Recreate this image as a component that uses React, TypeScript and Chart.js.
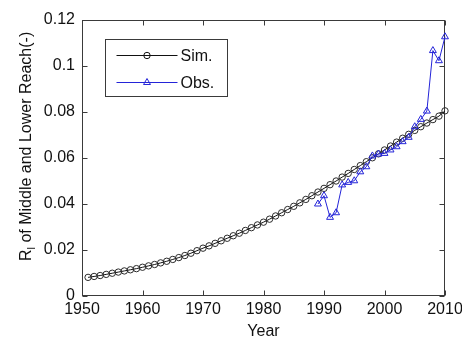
import React, { useEffect, useRef } from 'react';
import { Chart, registerables } from 'chart.js';

Chart.register(...registerables);

const simYears = [
  1951, 1952, 1953, 1954, 1955, 1956, 1957, 1958, 1959, 1960,
  1961, 1962, 1963, 1964, 1965, 1966, 1967, 1968, 1969, 1970,
  1971, 1972, 1973, 1974, 1975, 1976, 1977, 1978, 1979, 1980,
  1981, 1982, 1983, 1984, 1985, 1986, 1987, 1988, 1989, 1990,
  1991, 1992, 1993, 1994, 1995, 1996, 1997, 1998, 1999, 2000,
  2001, 2002, 2003, 2004, 2005, 2006, 2007, 2008, 2009, 2010,
];
const simValues = [
  0.0081, 0.0085, 0.0089, 0.0094, 0.0099, 0.0104, 0.0109, 0.0114, 0.0119, 0.0125,
  0.0131, 0.0137, 0.0144, 0.0151, 0.0159, 0.0167, 0.0176, 0.0186, 0.0197, 0.0208,
  0.0218, 0.0229, 0.024, 0.0251, 0.0262, 0.0273, 0.0285, 0.0297, 0.0309, 0.0321,
  0.0334, 0.0348, 0.0362, 0.0376, 0.039, 0.0405, 0.042, 0.0436, 0.0452, 0.0468,
  0.0484, 0.05, 0.0517, 0.0533, 0.055, 0.0567, 0.0584, 0.0601, 0.0618, 0.0635,
  0.0652, 0.0669, 0.0686, 0.0703, 0.072, 0.0736, 0.0752, 0.0767, 0.0782, 0.0805,
];
const obsYears = [
  1989, 1990, 1991, 1992, 1993, 1994, 1995, 1996, 1997, 1998, 1999,
  2000, 2001, 2002, 2003, 2004, 2005, 2006, 2007, 2008, 2009, 2010,
];
const obsValues = [
  0.04, 0.0436, 0.0342, 0.0362, 0.0483, 0.0494, 0.0501, 0.054, 0.0562, 0.0609, 0.0617,
  0.062, 0.0635, 0.0649, 0.0671, 0.069, 0.0736, 0.0768, 0.0804, 0.1067, 0.1023, 0.1127,
];
const xTicks = [1950, 1960, 1970, 1980, 1990, 2000, 2010];
const yTicks = [0, 0.02, 0.04, 0.06, 0.08, 0.1, 0.12];
const yTickLabels = ['0', '0.02', '0.04', '0.06', '0.08', '0.1', '0.12'];
const seriesLabels = ['Sim.', 'Obs.'];
const xTitle = 'Year';
const yTitleMain = 'R';
const yTitleSub = 'l';
const yTitleRest = ' of Middle and Lower Reach(-)';

const FONT = "'Liberation Sans', Arial, Helvetica, sans-serif";
const AXIS_COLOR = '#3a3a3a';
const SIM_COLOR = '#111111';
const OBS_COLOR = '#2424d8';

function drawMarker(ctx: CanvasRenderingContext2D, style: string, x: number, y: number, r: number) {
  ctx.beginPath();
  if (style === 'triangle') {
    ctx.moveTo(x, y - r);
    ctx.lineTo(x + 0.866 * r, y + 0.5 * r);
    ctx.lineTo(x - 0.866 * r, y + 0.5 * r);
    ctx.closePath();
  } else {
    ctx.arc(x, y, r, 0, Math.PI * 2);
  }
  ctx.stroke();
}

const framePlugin = {
  id: 'frameTicks',
  beforeDatasetsDraw(chart: any) {
    const { ctx, chartArea } = chart;
    const xs = chart.scales.x;
    const ys = chart.scales.y;
    const l = Math.round(chartArea.left) + 0.5;
    const r = Math.round(chartArea.right) - 0.5;
    const t = Math.round(chartArea.top) + 0.5;
    const b = Math.round(chartArea.bottom) - 0.5;
    ctx.save();
    ctx.strokeStyle = AXIS_COLOR;
    ctx.lineWidth = 1;
    ctx.strokeRect(l, t, r - l, b - t);
    const len = 5;
    ctx.beginPath();
    xs.ticks.forEach((tk: any) => {
      const px = Math.round(xs.getPixelForValue(tk.value)) + 0.5;
      ctx.moveTo(px, b);
      ctx.lineTo(px, b - len);
      ctx.moveTo(px, t);
      ctx.lineTo(px, t + len);
    });
    ys.ticks.forEach((tk: any) => {
      const py = Math.round(ys.getPixelForValue(tk.value)) + 0.5;
      ctx.moveTo(l, py);
      ctx.lineTo(l + len, py);
      ctx.moveTo(r, py);
      ctx.lineTo(r - len, py);
    });
    ctx.stroke();
    ctx.restore();
  },
};

const yTitlePlugin = {
  id: 'yTitleSub',
  afterDraw(chart: any) {
    const { ctx } = chart;
    ctx.save();
    ctx.translate(27, 261);
    ctx.rotate(-Math.PI / 2);
    ctx.fillStyle = '#111';
    ctx.textAlign = 'left';
    ctx.textBaseline = 'middle';
    ctx.font = `16px ${FONT}`;
    ctx.fillText(yTitleMain, 0, 0);
    let x = ctx.measureText(yTitleMain).width;
    ctx.font = `11px ${FONT}`;
    ctx.fillText(yTitleSub, x, 5);
    x += ctx.measureText(yTitleSub).width;
    ctx.font = `16px ${FONT}`;
    ctx.fillText(yTitleRest, x, 0);
    ctx.restore();
  },
};

const legendPlugin = {
  id: 'boxLegend',
  afterDraw(chart: any) {
    const { ctx, chartArea } = chart;
    const x0 = Math.round(chartArea.left + 24) - 0.5;
    const y0 = Math.round(chartArea.top + 19) + 0.5;
    const w = 122;
    const h = 57;
    ctx.save();
    ctx.fillStyle = '#ffffff';
    ctx.fillRect(x0, y0, w, h);
    ctx.strokeStyle = AXIS_COLOR;
    ctx.lineWidth = 1;
    ctx.strokeRect(x0, y0, w, h);
    const order = [1, 0];
    order.forEach((dsIndex, i) => {
      const ds = chart.data.datasets[dsIndex];
      const y = Math.round(y0 + 15.5 + i * 26.5) + 0.5;
      ctx.strokeStyle = ds.borderColor;
      ctx.lineWidth = 1;
      ctx.beginPath();
      ctx.moveTo(x0 + 11, y);
      ctx.lineTo(x0 + 72, y);
      ctx.stroke();
      drawMarker(ctx, ds.pointStyle, x0 + 41.5, y, ds.pointRadius);
      ctx.fillStyle = '#111';
      ctx.font = `16px ${FONT}`;
      ctx.textAlign = 'left';
      ctx.textBaseline = 'middle';
      ctx.fillText(ds.label, x0 + 75, y + 1);
    });
    ctx.restore();
  },
};

export default function App() {
  const canvasRef = useRef<HTMLCanvasElement | null>(null);

  useEffect(() => {
    const canvas = canvasRef.current;
    if (!canvas) return;
    const simData = simYears.map((yr, i) => ({ x: yr, y: simValues[i] }));
    const obsData = obsYears.map((yr, i) => ({ x: yr, y: obsValues[i] }));

    const chart = new Chart(canvas, {
      type: 'line',
      data: {
        datasets: [
          {
            label: seriesLabels[1],
            data: obsData,
            borderColor: OBS_COLOR,
            backgroundColor: 'rgba(0,0,0,0)',
            borderWidth: 1,
            pointStyle: 'triangle',
            pointRadius: 4,
            pointBorderWidth: 1,
            pointBorderColor: OBS_COLOR,
            pointBackgroundColor: 'rgba(0,0,0,0)',
            tension: 0,
            clip: false,
            order: 1,
          } as any,
          {
            label: seriesLabels[0],
            data: simData,
            borderColor: SIM_COLOR,
            backgroundColor: 'rgba(0,0,0,0)',
            borderWidth: 1,
            pointStyle: 'circle',
            pointRadius: 3.2,
            pointBorderWidth: 1,
            pointBorderColor: '#2a2a2a',
            pointBackgroundColor: 'rgba(0,0,0,0)',
            tension: 0,
            clip: false,
            order: 2,
          } as any,
        ],
      },
      options: {
        responsive: false,
        animation: false,
        devicePixelRatio: 1,
        layout: { padding: { left: 0, right: 17, top: 20, bottom: 0 } },
        plugins: {
          legend: { display: false },
          tooltip: { enabled: false },
        },
        scales: {
          x: {
            type: 'linear',
            min: 1950,
            max: 2010,
            grid: { display: false, drawTicks: false },
            border: { display: false },
            afterBuildTicks: (scale: any) => {
              scale.ticks = xTicks.map((v) => ({ value: v }));
            },
            afterFit: (scale: any) => {
              scale.height = 45;
              scale.paddingLeft = 0;
              scale.paddingRight = 0;
            },
            ticks: {
              color: '#111',
              font: { family: FONT, size: 16 },
              padding: 4,
              maxRotation: 0,
              autoSkip: false,
              callback: (v: any) => String(v),
            },
            title: {
              display: true,
              text: xTitle,
              color: '#111',
              font: { family: FONT, size: 16 },
              padding: { top: 0, bottom: 0 },
            },
          },
          y: {
            type: 'linear',
            min: 0,
            max: 0.12,
            grid: { display: false, drawTicks: false },
            border: { display: false },
            afterBuildTicks: (scale: any) => {
              scale.ticks = yTicks.map((v) => ({ value: v }));
            },
            afterFit: (scale: any) => {
              scale.width = 82;
              scale.paddingTop = 0;
              scale.paddingBottom = 0;
            },
            ticks: {
              color: '#111',
              font: { family: FONT, size: 16 },
              padding: 7,
              autoSkip: false,
              callback: (_v: any, i: number) => yTickLabels[i],
            },
          },
        },
      } as any,
      plugins: [framePlugin, yTitlePlugin, legendPlugin],
    });
    return () => chart.destroy();
  }, []);

  return (
    <div style={{ position: 'absolute', left: 0, top: 0, width: 462, height: 341, background: '#fff' }}>
      <canvas ref={canvasRef} width={462} height={341} style={{ display: 'block', width: 462, height: 341 }} />
    </div>
  );
}
